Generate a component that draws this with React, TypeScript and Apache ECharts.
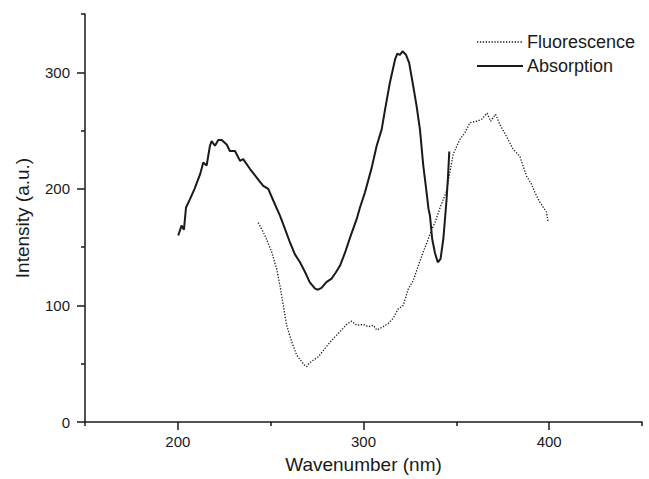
import React, { useEffect, useRef } from "react";
import * as echarts from "echarts";

const absorptionX = [200.2, 202, 203.3, 204.4, 206.5, 209, 212, 213.7, 215.5, 217.3, 218.2, 220, 221.8, 223.6, 226.3, 228, 230.8, 233.5, 235.2, 238.9, 243.3, 246, 248.7, 251.4, 255, 257.7, 260.4, 263, 265.8, 268.5, 271, 273.9, 275.5, 277.4, 280, 282.8, 285, 287.3, 290, 292.7, 296.3, 298.1, 300.8, 304.4, 307.1, 309.8, 311.6, 314.2, 317, 318.2, 319.6, 321, 322.9, 324.6, 326.8, 328.6, 330.4, 332.2, 333.6, 335, 335.8, 337, 338.5, 340, 341.5, 343, 344.7, 345.5, 346.2];
const absorptionY = [160, 168.5, 165, 184, 191, 200, 212.6, 222.6, 220, 237, 241, 237, 242, 242, 238, 232.5, 232.5, 224, 225.5, 217, 208, 202.6, 200, 190, 177, 165.7, 154, 144, 137, 128.7, 120, 114.4, 113.5, 115, 120, 123, 128, 134, 145, 158, 174, 184, 197, 218, 237, 251, 268, 291, 311, 316, 315, 318, 315, 308, 288, 271, 251, 220, 202, 183, 177, 157, 145, 137, 140, 157, 190, 210, 232];

const fluorescenceX = [243.3, 246, 248, 250.5, 253.2, 255, 256.8, 258.6, 261.3, 264, 266.6, 268, 269.4, 270.5, 272, 275.7, 279.2, 282.8, 285.5, 288.2, 290.9, 293.6, 296.3, 299.9, 302.6, 305.3, 307.1, 310.6, 313.3, 316, 318.7, 321.4, 324.1, 326.8, 329.5, 332.2, 334.9, 336.7, 338.5, 341.5, 344.7, 348.3, 351.9, 354.6, 357.3, 360.9, 363.6, 366.6, 368.5, 371.1, 373.5, 377, 380.6, 384.2, 387.8, 390.5, 392.3, 395, 398.6, 399.5];
const fluorescenceY = [171, 163, 156, 146, 131.5, 117, 100, 83, 69, 57.5, 52, 49, 47.5, 50, 52, 56, 63, 70, 74.5, 79, 83.7, 86.5, 83, 83.7, 81.7, 83, 79, 81.7, 84.5, 89, 97, 100, 114, 121.5, 134, 146, 157, 165, 171, 185, 198, 229.7, 242.5, 248, 256.8, 258, 259.6, 265, 258, 264, 255, 245, 234, 228, 211, 204, 197, 188.5, 180, 171];

const xMajorTicks = [200, 300, 400];
const xMinorTicks = [150, 250, 350, 450];
const yMajorTicks = [0, 100, 200, 300];
const yMinorTicks = [50, 150, 250, 350];
const legendNames = ["Fluorescence", "Absorption"];

const FONT = "Liberation Sans, Arial, sans-serif";
const INK = "#1a1a1a";
const DOT: number[] = [1.3, 1.6];

export default function App() {
  const ref = useRef<HTMLDivElement>(null);
  useEffect(() => {
    if (!ref.current) return;
    const chart = echarts.init(ref.current, undefined, { renderer: "svg" });
    const abs = absorptionX.map((x, i) => [x, absorptionY[i]]);
    const flu = fluorescenceX.map((x, i) => [x, fluorescenceY[i]]);
    const legendRows = [
      { y: 42, dash: DOT, width: 1.3 },
      { y: 66, dash: null as number[] | null, width: 2 },
    ];
    const legendGraphics: any[] = [];
    legendRows.forEach((r, i) => {
      legendGraphics.push({
        type: "line",
        shape: { x1: 477, y1: r.y, x2: 523, y2: r.y },
        style: { stroke: INK, lineWidth: r.width, lineDash: r.dash || undefined },
      });
      legendGraphics.push({
        type: "text",
        x: 527,
        y: r.y,
        style: {
          text: legendNames[i],
          fontFamily: FONT,
          fontSize: 18,
          fill: INK,
          textVerticalAlign: "middle",
          verticalAlign: "middle",
          align: "left",
        },
      });
    });
    chart.setOption({
      animation: false,
      backgroundColor: "#ffffff",
      grid: { left: 85, right: 7, top: 14, bottom: 55 },
      graphic: legendGraphics,
      xAxis: [
        {
          type: "value",
          min: 150,
          max: 450,
          name: "Wavenumber (nm)",
          nameLocation: "middle",
          nameGap: 33,
          nameTextStyle: { fontFamily: FONT, fontSize: 19, color: INK },
          axisLine: { show: true, lineStyle: { color: INK, width: 1.5 } },
          axisTick: { show: true, customValues: xMajorTicks, length: 8, lineStyle: { color: INK, width: 1.5 } },
          axisLabel: { customValues: xMajorTicks, margin: 12, fontFamily: FONT, fontSize: 15, color: INK },
          splitLine: { show: false },
        },
        {
          type: "value",
          min: 150,
          max: 450,
          position: "bottom",
          axisLine: { show: false },
          axisTick: { show: true, customValues: xMinorTicks, length: 4, lineStyle: { color: INK, width: 1.5 } },
          axisLabel: { show: false },
          splitLine: { show: false },
        },
      ],
      yAxis: [
        {
          type: "value",
          min: 0,
          max: 350,
          name: "Intensity (a.u.)",
          nameLocation: "middle",
          nameGap: 53,
          nameTextStyle: { fontFamily: FONT, fontSize: 19, color: INK },
          axisLine: { show: true, lineStyle: { color: INK, width: 1.5 } },
          axisTick: { show: true, customValues: yMajorTicks, length: 8, lineStyle: { color: INK, width: 1.5 } },
          axisLabel: { customValues: yMajorTicks, margin: 15, fontFamily: FONT, fontSize: 15, color: INK },
          splitLine: { show: false },
        },
        {
          type: "value",
          min: 0,
          max: 350,
          position: "left",
          axisLine: { show: false },
          axisTick: { show: true, customValues: yMinorTicks, length: 4, lineStyle: { color: INK, width: 1.5 } },
          axisLabel: { show: false },
          splitLine: { show: false },
        },
      ],
      series: [
        {
          name: "Fluorescence",
          type: "line",
          data: flu,
          symbol: "none",
          showSymbol: false,
          xAxisIndex: 0,
          yAxisIndex: 0,
          itemStyle: { color: INK },
          lineStyle: { color: INK, width: 1.3, type: DOT },
        },
        {
          name: "Absorption",
          type: "line",
          data: abs,
          symbol: "none",
          showSymbol: false,
          xAxisIndex: 0,
          yAxisIndex: 0,
          itemStyle: { color: INK },
          lineStyle: { color: INK, width: 2 },
        },
      ],
    });
    return () => chart.dispose();
  }, []);
  return (
    <div
      ref={ref}
      style={{ position: "fixed", left: 0, top: 0, width: 649, height: 479, background: "#fff" }}
    />
  );
}
